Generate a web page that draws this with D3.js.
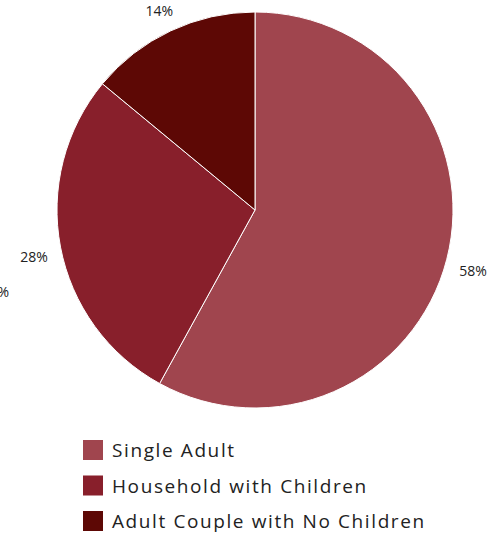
<!DOCTYPE html>
<html>
<head>
<meta charset="utf-8">
<script src="https://cdn.jsdelivr.net/npm/d3@7"></script>
<style>
  body { margin: 0; background: #fff; }
  svg { display: block; }
</style>
</head>
<body>
<svg id="chart" width="502" height="533"></svg>
<script>
var categories = ["Single Adult", "Household with Children", "Adult Couple with No Children"];
var values = [58, 28, 14];
var colors = ["#a0454e", "#881f2b", "#5d0805"];

var svg = d3.select("#chart");
var cx = 255, cy = 210, radius = 198;
var font = "'Open Sans', Lato, sans-serif";

var pie = d3.pie().sort(null).value(function (d) { return d; });
var arcs = pie(values);
var arc = d3.arc().innerRadius(0).outerRadius(radius);
var labelArc = d3.arc().innerRadius(225).outerRadius(225);

var g = svg.append("g").attr("transform", "translate(" + cx + "," + cy + ")");

g.selectAll("path.slice")
  .data(arcs)
  .enter().append("path")
  .attr("class", "slice")
  .attr("d", arc)
  .attr("fill", function (d, i) { return colors[i]; })
  .attr("stroke", "#fff")
  .attr("stroke-width", 1);

g.selectAll("text.lbl")
  .data(arcs)
  .enter().append("text")
  .attr("class", "lbl")
  .attr("x", function (d) { return labelArc.centroid(d)[0]; })
  .attr("y", function (d) { return labelArc.centroid(d)[1] + 10; })
  .attr("text-anchor", "middle")
  .attr("font-family", font)
  .attr("font-size", 14)
  .attr("fill", "#222")
  .text(function (d) { return d.value + "%"; });

// stray clipped label at the left edge (as in the original)
svg.append("text")
  .attr("x", 9).attr("y", 297)
  .attr("text-anchor", "end")
  .attr("font-family", font)
  .attr("font-size", 14)
  .attr("fill", "#222")
  .text(values[1] + "%");

var legend = svg.append("g").attr("transform", "translate(83,440)");
var rows = legend.selectAll("g.row")
  .data(categories)
  .enter().append("g")
  .attr("class", "row")
  .attr("transform", function (d, i) { return "translate(0," + (i * 35.5) + ")"; });

rows.append("rect")
  .attr("width", 20).attr("height", 20)
  .attr("fill", function (d, i) { return colors[i]; });

rows.append("text")
  .attr("x", 29).attr("y", 17)
  .attr("font-family", font)
  .attr("font-size", 19)
  .attr("letter-spacing", 1.6)
  .attr("fill", "#222")
  .text(function (d) { return d; });
</script>
</body>
</html>
